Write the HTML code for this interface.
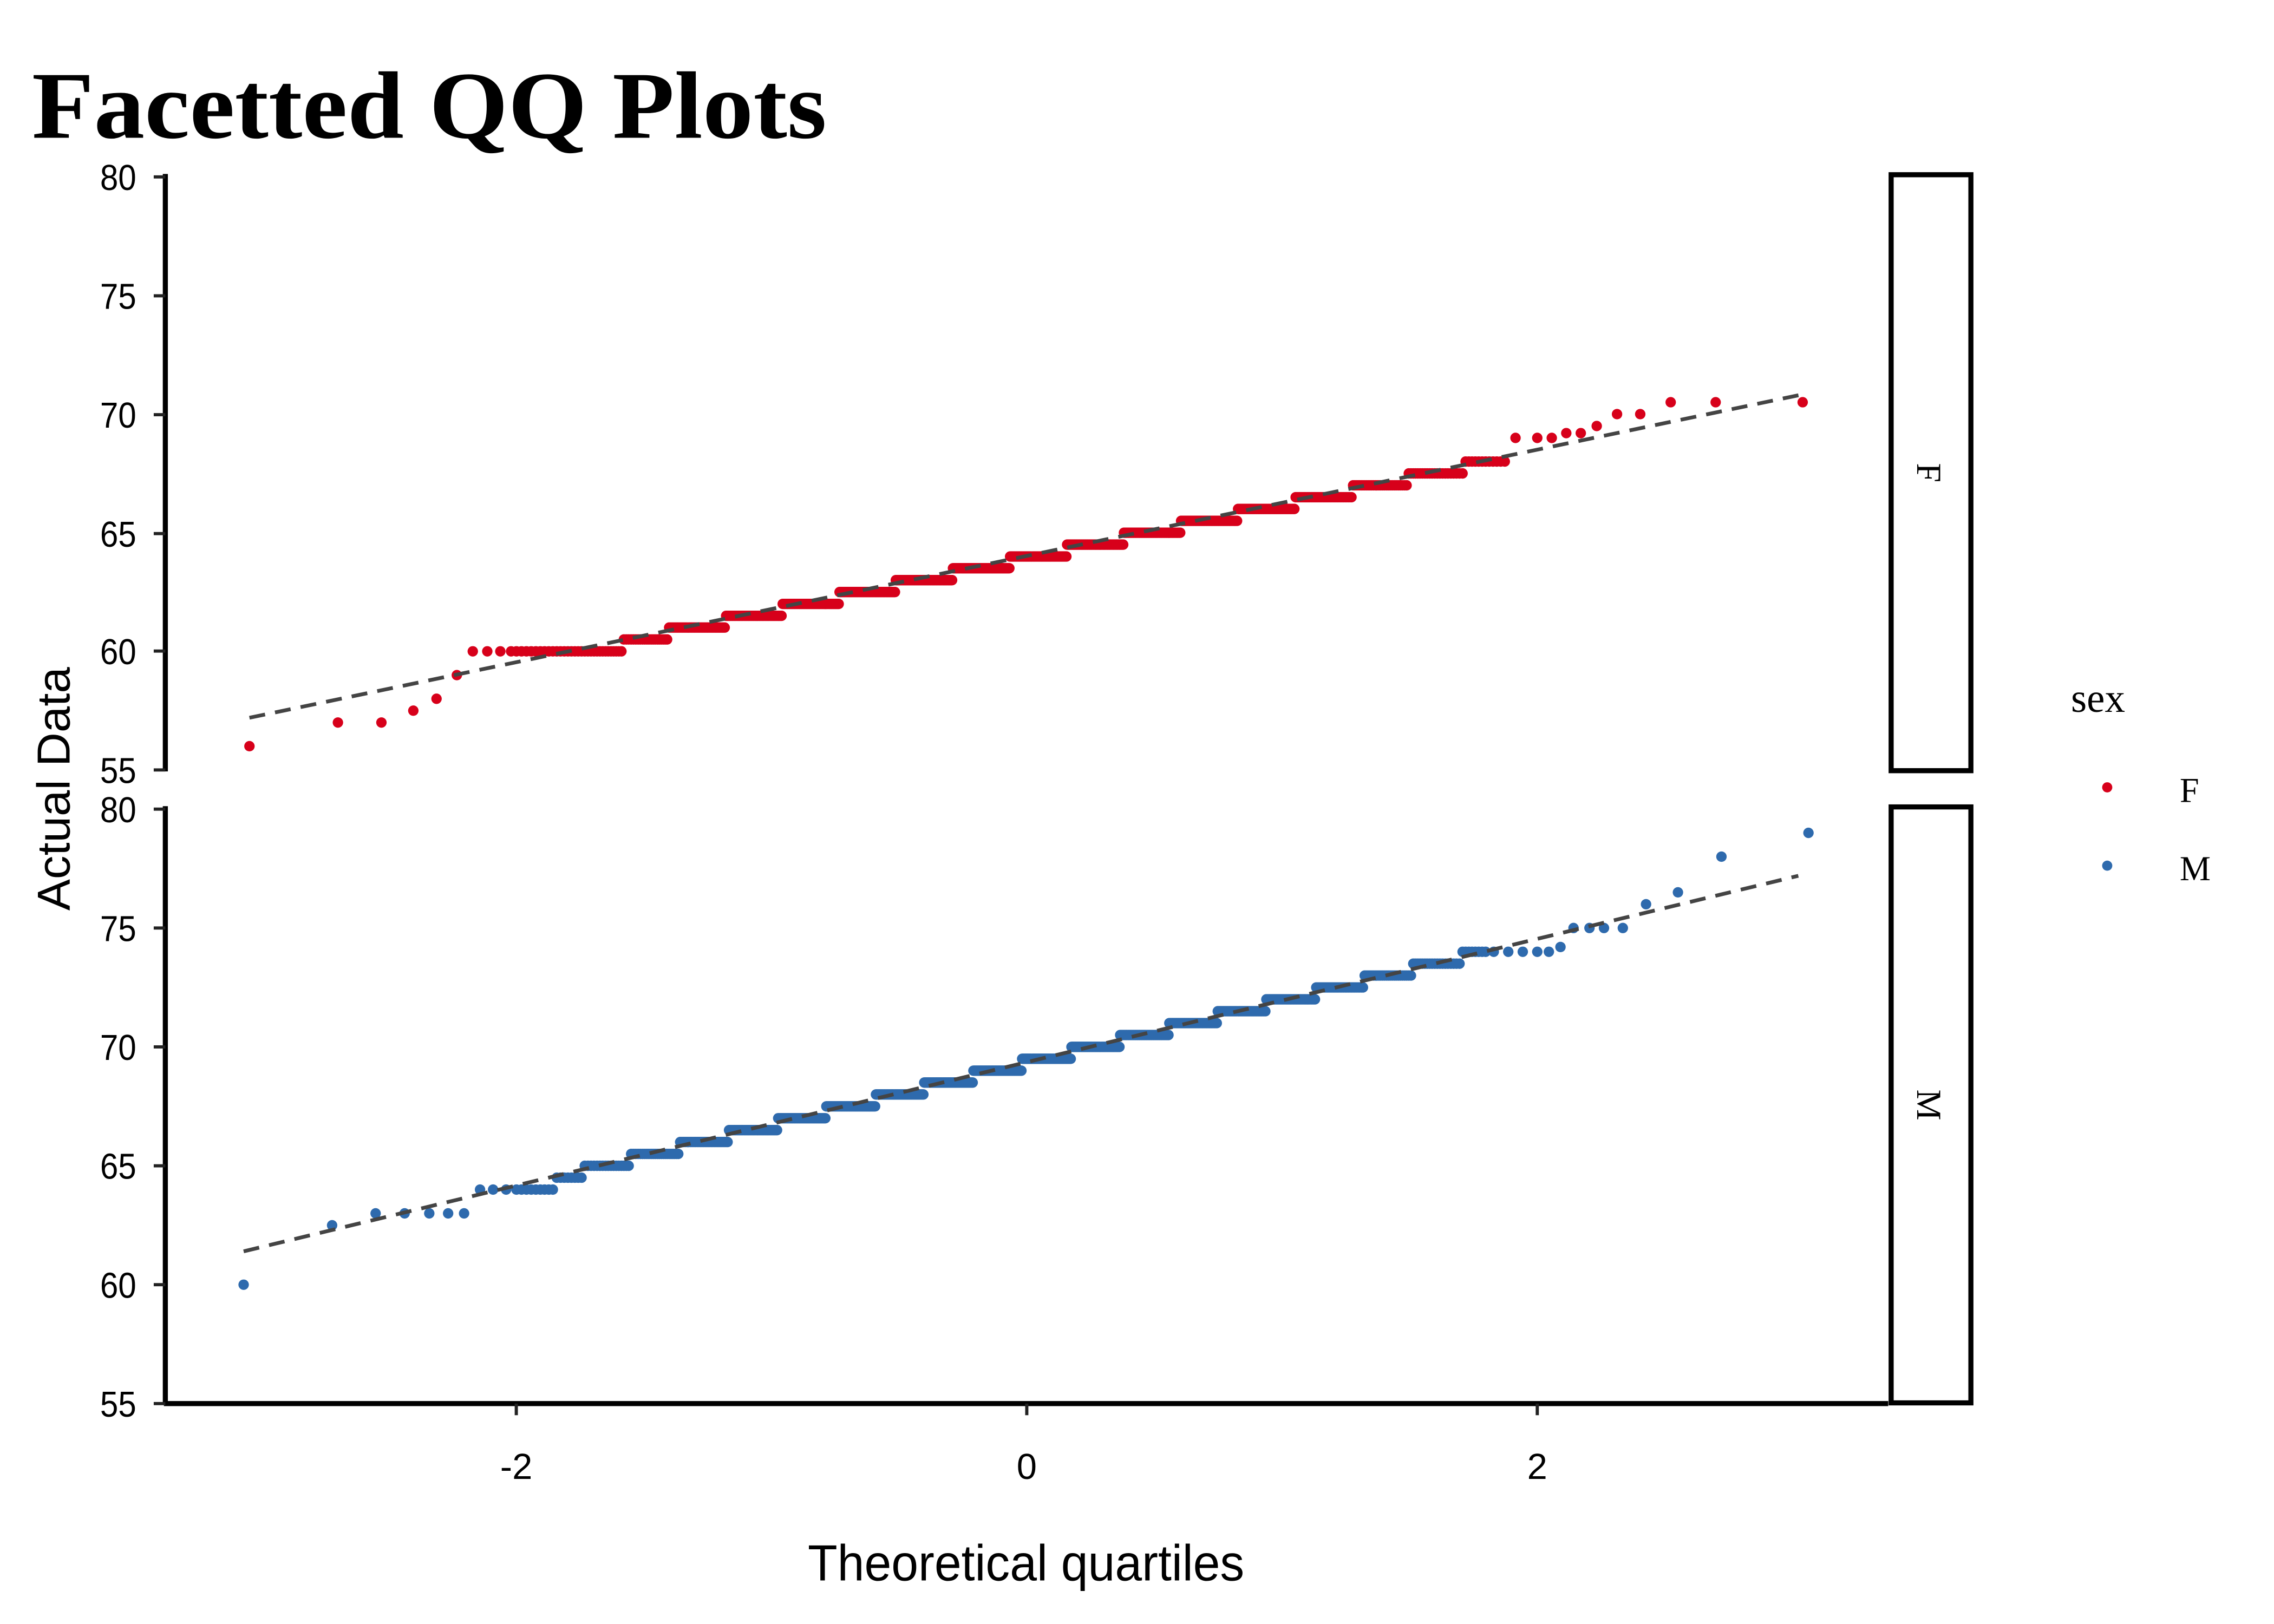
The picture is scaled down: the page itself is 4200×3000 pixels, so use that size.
<!DOCTYPE html>
<html><head><meta charset="utf-8"><style>html,body{margin:0;padding:0;background:#fff}svg{display:block}</style></head>
<body>
<svg id="s" xmlns="http://www.w3.org/2000/svg" width="4200" height="3000" viewBox="0 0 1568 1120" preserveAspectRatio="none">
<rect width="1568" height="1120" fill="#fff"/>
<text x="22" y="95" font-family="Liberation Serif, serif" font-weight="bold" font-size="66" textLength="548" lengthAdjust="spacingAndGlyphs" fill="#000">Facetted QQ Plots</text>
<g font-family="Liberation Sans, sans-serif" font-size="25" fill="#000" text-anchor="end">
<text x="94" y="131" textLength="25" lengthAdjust="spacingAndGlyphs">80</text><text x="94" y="213" textLength="25" lengthAdjust="spacingAndGlyphs">75</text><text x="94" y="295" textLength="25" lengthAdjust="spacingAndGlyphs">70</text><text x="94" y="377" textLength="25" lengthAdjust="spacingAndGlyphs">65</text><text x="94" y="458" textLength="25" lengthAdjust="spacingAndGlyphs">60</text><text x="94" y="540" textLength="25" lengthAdjust="spacingAndGlyphs">55</text>
<text x="94" y="567" textLength="25" lengthAdjust="spacingAndGlyphs">80</text><text x="94" y="649" textLength="25" lengthAdjust="spacingAndGlyphs">75</text><text x="94" y="731" textLength="25" lengthAdjust="spacingAndGlyphs">70</text><text x="94" y="813" textLength="25" lengthAdjust="spacingAndGlyphs">65</text><text x="94" y="895" textLength="25" lengthAdjust="spacingAndGlyphs">60</text><text x="94" y="977" textLength="25" lengthAdjust="spacingAndGlyphs">55</text>
</g>
<g stroke="#000" stroke-width="3.5" fill="none">
<line x1="114" y1="120" x2="114" y2="532"/>
<line x1="114" y1="556" x2="114" y2="969"/>
<line x1="113" y1="968" x2="1302" y2="968"/>
</g>
<g stroke="#222" stroke-width="2.2" fill="none">
<line x1="106" y1="122" x2="114" y2="122"/><line x1="106" y1="204" x2="114" y2="204"/><line x1="106" y1="286" x2="114" y2="286"/><line x1="106" y1="368" x2="114" y2="368"/><line x1="106" y1="449" x2="114" y2="449"/><line x1="106" y1="531" x2="114" y2="531"/>
<line x1="106" y1="558" x2="114" y2="558"/><line x1="106" y1="640" x2="114" y2="640"/><line x1="106" y1="722" x2="114" y2="722"/><line x1="106" y1="804" x2="114" y2="804"/><line x1="106" y1="886" x2="114" y2="886"/><line x1="106" y1="968" x2="114" y2="968"/>
<line x1="356" y1="968" x2="356" y2="976"/><line x1="708" y1="968" x2="708" y2="976"/><line x1="1060" y1="968" x2="1060" y2="976"/>
</g>
<g stroke="#000" stroke-width="3.5" fill="none">
<rect x="1304" y="120.5" width="55" height="411"/>
<rect x="1304" y="556.5" width="55" height="411"/>
</g>
<g font-family="Liberation Sans, sans-serif" font-size="25" fill="#000" text-anchor="middle">
<text x="356" y="1020">-2</text><text x="708" y="1020">0</text><text x="1060" y="1020">2</text>
</g>
<text x="557" y="1090" font-family="Liberation Sans, sans-serif" font-size="35" textLength="301" lengthAdjust="spacingAndGlyphs" fill="#000">Theoretical quartiles</text>
<text transform="translate(48,628) rotate(-90)" font-family="Liberation Sans, sans-serif" font-size="32" textLength="168" lengthAdjust="spacingAndGlyphs" fill="#000">Actual Data</text>
<g font-family="Liberation Serif, serif" font-size="24" fill="#000">
<text transform="translate(1322,326) rotate(90)" text-anchor="middle">F</text>
<text transform="translate(1322,762) rotate(90)" text-anchor="middle">M</text>
<text x="1428" y="491" font-size="28">sex</text>
<text x="1503" y="553">F</text>
<text x="1503" y="607">M</text>
</g>
<circle cx="1453" cy="543" r="3.5" fill="#d7001a"/>
<circle cx="1453" cy="597" r="3.5" fill="#2e6aad"/>
<g id="pts"></g>
<g stroke="#444" stroke-width="2.6" stroke-dasharray="11,7" fill="none">
<line x1="172" y1="495" x2="1243" y2="272"/>
<line x1="168" y1="863" x2="1240" y2="604"/>
</g>
</svg>
<script>
function inv(p){var a=[-39.69683028665376,220.9460984245205,-275.9285104469687,138.357751867269,-30.66479806614716,2.506628277459239],b=[-54.47609879822406,161.5858368580409,-155.6989798598866,66.80131188771472,-13.28068155288572],c=[-0.007784894002430293,-0.3223964580411365,-2.400758277161838,-2.549732539343734,4.374664141464968,2.938163982698783],d=[0.007784695709041462,0.3224671290700398,2.445134137142996,3.754408661907416];var q,r;if(p<0.02425){q=Math.sqrt(-2*Math.log(p));return(((((c[0]*q+c[1])*q+c[2])*q+c[3])*q+c[4])*q+c[5])/((((d[0]*q+d[1])*q+d[2])*q+d[3])*q+1);}if(p>1-0.02425){q=Math.sqrt(-2*Math.log(1-p));return-(((((c[0]*q+c[1])*q+c[2])*q+c[3])*q+c[4])*q+c[5])/((((d[0]*q+d[1])*q+d[2])*q+d[3])*q+1);}q=p-0.5;r=q*q;return(((((a[0]*r+a[1])*r+a[2])*r+a[3])*r+a[4])*r+a[5])*q/(((((b[0]*r+b[1])*r+b[2])*r+b[3])*r+b[4])*r+1);}
var g=document.getElementById('pts'),h='';
function pt(x,v,top,col){var y=top?122+(80-v)*16.36:558+(80-v)*16.4;h+='<circle cx="'+x.toFixed(1)+'" cy="'+y.toFixed(1)+'" r="3.6" fill="'+col+'"/>';}
var n=900;
var fc='#d7001a';
[[172,56],[233,57],[263,57],[285,57.5],[301,58],[315,59],[326,60],[336,60],[345,60]].forEach(function(p){pt(p[0],p[1],1,fc)});
[[1045,69],[1060,69],[1070,69],[1080,69.2],[1090,69.2],[1101,69.5],[1115,70],[1131,70],[1152,70.5],[1183,70.5],[1243,70.5]].forEach(function(p){pt(p[0],p[1],1,fc)});
for(var i=1;i<=n;i++){var z=inv((i-0.5)/n);var x=708+176*z;if(x<352||x>1040)continue;var v=Math.round((63.9+2.24*z)*2)/2;if(x<430)v=60;pt(x,v,1,fc);}
var mc='#2e6aad';
[[168,60],[229,62.5],[259,63],[279,63],[296,63],[309,63],[320,63],[331,64],[340,64],[349,64]].forEach(function(p){pt(p[0],p[1],0,mc)});
[[1030,74],[1040,74],[1050,74],[1060,74],[1068,74],[1076,74.2],[1085,75],[1096,75],[1106,75],[1119,75],[1135,76],[1157,76.5],[1187,78],[1247,79]].forEach(function(p){pt(p[0],p[1],0,mc)});
for(var i=1;i<=n;i++){var z=inv((i-0.5)/n);var x=708+176*z;if(x<355||x>1025)continue;var v=Math.round((69.3+2.61*z)*2)/2;if(x<382)v=64;pt(x,v,0,mc);}
g.innerHTML=h;
</script>
</body></html>
